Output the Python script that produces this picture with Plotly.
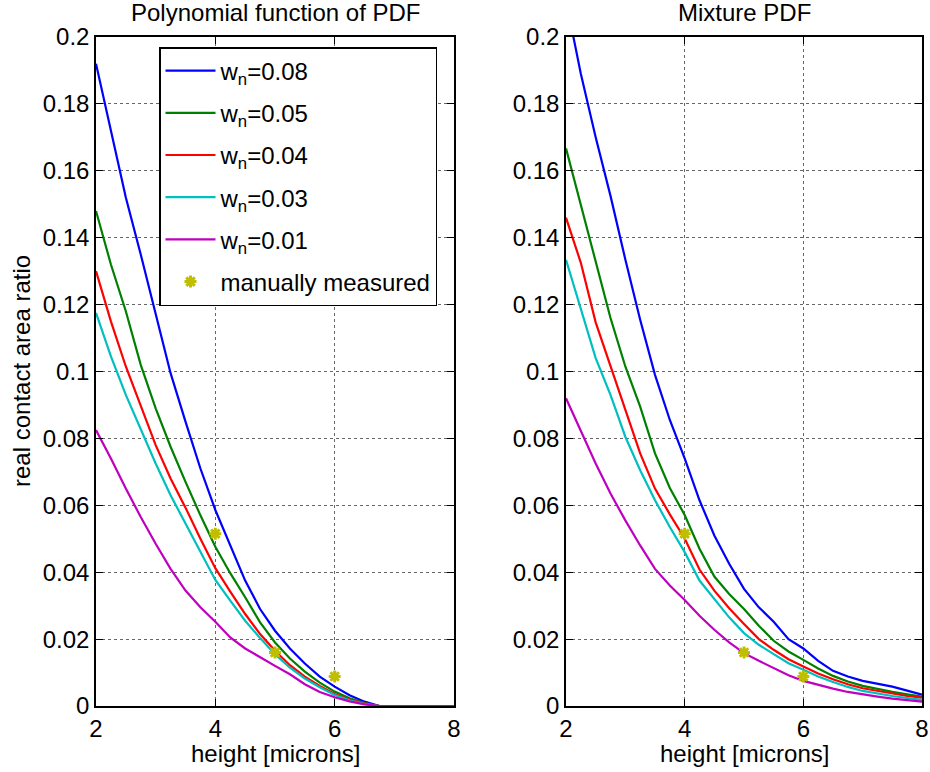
import plotly.graph_objects as go

heights = [2.0, 2.25, 2.5, 2.75, 3.0, 3.25, 3.5, 3.75, 4.0, 4.25, 4.5, 4.75, 5.0,
           5.25, 5.5, 5.75, 6.0, 6.25, 6.5, 6.75, 7.0, 7.25, 7.5, 7.75, 8.0]

series_names = ["w<sub>n</sub>=0.08", "w<sub>n</sub>=0.05", "w<sub>n</sub>=0.04",
                "w<sub>n</sub>=0.03", "w<sub>n</sub>=0.01"]
series_colors = ["#0000ff", "#008000", "#ff0000", "#00bfbf", "#bf00bf"]

# Left panel: Polynomial function of PDF
poly_w008 = [0.192, 0.172, 0.152, 0.135, 0.117, 0.0995, 0.085, 0.071, 0.0586, 0.048, 0.0375, 0.029, 0.0225,
             0.0172, 0.0127, 0.0088, 0.0058, 0.0032, 0.0013, 0.0, 0.0, 0.0, 0.0, 0.0, 0.0]
poly_w005 = [0.148, 0.132, 0.118, 0.102, 0.089, 0.0775, 0.067, 0.057, 0.0476, 0.0397, 0.0325, 0.025, 0.019,
             0.0142, 0.0103, 0.007, 0.0043, 0.0023, 0.0009, 0.0, 0.0, 0.0, 0.0, 0.0, 0.0]
poly_w004 = [0.130, 0.115, 0.1015, 0.090, 0.078, 0.068, 0.0593, 0.050, 0.0412, 0.0342, 0.0275, 0.0215, 0.0165,
             0.0122, 0.0088, 0.006, 0.0036, 0.0019, 0.0007, 0.0, 0.0, 0.0, 0.0, 0.0, 0.0]
poly_w003 = [0.1175, 0.1045, 0.093, 0.0825, 0.0725, 0.063, 0.0545, 0.046, 0.0377, 0.0315, 0.0255, 0.0203, 0.0155,
             0.0115, 0.0082, 0.0056, 0.0033, 0.0017, 0.0006, 0.0, 0.0, 0.0, 0.0, 0.0, 0.0]
poly_w001 = [0.0825, 0.074, 0.065, 0.0565, 0.0485, 0.041, 0.0345, 0.0295, 0.0252, 0.0205, 0.0172, 0.0145, 0.012,
             0.0095, 0.0065, 0.0042, 0.0026, 0.0014, 0.0005, 0.0, 0.0, 0.0, 0.0, 0.0, 0.0]

# Right panel: Mixture PDF
mix_w008 = [0.211, 0.189, 0.170, 0.1525, 0.1335, 0.1155, 0.099, 0.0855, 0.074, 0.0615, 0.051, 0.0425, 0.035,
            0.0295, 0.0252, 0.020, 0.0172, 0.0135, 0.0105, 0.0088, 0.0075, 0.0066, 0.0058, 0.0046, 0.0034]
mix_w005 = [0.1667, 0.150, 0.1335, 0.116, 0.1015, 0.0895, 0.0755, 0.0652, 0.0571, 0.047, 0.0387, 0.0335, 0.029,
            0.024, 0.0195, 0.0163, 0.0138, 0.0112, 0.009, 0.0073, 0.006, 0.005, 0.0042, 0.0035, 0.0028]
mix_w004 = [0.146, 0.1325, 0.1147, 0.1015, 0.0885, 0.0755, 0.065, 0.0573, 0.0501, 0.0408, 0.0345, 0.0292, 0.0245,
            0.020, 0.0168, 0.014, 0.0118, 0.0097, 0.008, 0.0065, 0.0053, 0.0045, 0.0037, 0.003, 0.0025]
mix_w003 = [0.1334, 0.1185, 0.104, 0.093, 0.0805, 0.0705, 0.0615, 0.0535, 0.046, 0.0375, 0.032, 0.0265, 0.0218,
            0.0183, 0.0155, 0.0128, 0.0108, 0.0088, 0.0072, 0.0057, 0.0045, 0.0037, 0.003, 0.0024, 0.0018]
mix_w001 = [0.092, 0.082, 0.0725, 0.0635, 0.0555, 0.048, 0.041, 0.036, 0.0317, 0.027, 0.0228, 0.019, 0.0158,
            0.0135, 0.0113, 0.0092, 0.0075, 0.0063, 0.0052, 0.0042, 0.0034, 0.0028, 0.0022, 0.0017, 0.0013]

measured_h = [4, 5, 6]
measured_r = [0.0515, 0.016, 0.0088]

x_ticks = [2, 4, 6, 8]
y_ticks = [0, 0.02, 0.04, 0.06, 0.08, 0.1, 0.12, 0.14, 0.16, 0.18, 0.2]
y_tick_text = ["0", "0.02", "0.04", "0.06", "0.08", "0.1", "0.12", "0.14", "0.16", "0.18", "0.2"]

FONT = "Liberation Sans, Arial, Helvetica, sans-serif"
FS = 24
W, H = 930, 772
STAR = "#bfbf00"

fig = go.Figure()

left_series = [poly_w008, poly_w005, poly_w004, poly_w003, poly_w001]
right_series = [mix_w008, mix_w005, mix_w004, mix_w003, mix_w001]

for i, (name, col, ys) in enumerate(zip(series_names, series_colors, left_series)):
    fig.add_trace(go.Scatter(x=heights, y=ys, mode="lines", name=name,
                             line=dict(color=col, width=2.2), legendgroup=f"g{i}",
                             xaxis="x", yaxis="y", showlegend=True))
fig.add_trace(go.Scatter(x=measured_h, y=measured_r, mode="markers", name="manually measured",
                         marker=dict(symbol="asterisk-open", size=10, color=STAR,
                                     line=dict(color=STAR, width=3)),
                         legendgroup="g5", xaxis="x", yaxis="y", showlegend=True))

for name, col, ys in zip(series_names, series_colors, right_series):
    fig.add_trace(go.Scatter(x=heights, y=ys, mode="lines", name=name,
                             line=dict(color=col, width=2.2),
                             xaxis="x2", yaxis="y2", showlegend=False))
fig.add_trace(go.Scatter(x=measured_h, y=measured_r, mode="markers", name="manually measured",
                         marker=dict(symbol="asterisk-open", size=10, color=STAR,
                                     line=dict(color=STAR, width=3)),
                         xaxis="x2", yaxis="y2", showlegend=False))

def px_x(p):
    return p / W

def px_y(p):
    return 1 - p / H

common_x = dict(range=[2, 8], tickvals=x_ticks, ticks="inside", ticklen=7, tickcolor="black",
                showline=True, linecolor="black", linewidth=1.5, mirror="ticks",
                showgrid=True, gridcolor="rgba(0,0,0,0.6)", griddash="dot", gridwidth=1,
                zeroline=False, automargin=False,
                tickfont=dict(size=FS, color="black", family=FONT))
common_y = dict(range=[0, 0.2], tickvals=y_ticks, ticktext=y_tick_text, ticks="inside", ticklen=7,
                tickcolor="black", showline=True, linecolor="black", linewidth=1.5, mirror="ticks",
                showgrid=True, gridcolor="rgba(0,0,0,0.6)", griddash="dot", gridwidth=1,
                zeroline=False, automargin=False,
                tickfont=dict(size=FS, color="black", family=FONT))

fig.update_layout(
    width=W, height=H,
    margin=dict(l=0, r=0, t=0, b=0, autoexpand=False),
    paper_bgcolor="white", plot_bgcolor="white",
    font=dict(family=FONT, size=FS, color="black"),
    xaxis=dict(domain=[px_x(96), px_x(454)], anchor="y", **common_x),
    yaxis=dict(domain=[px_y(706), px_y(37)], anchor="x", **common_y),
    xaxis2=dict(domain=[px_x(566), px_x(922)], anchor="y2", **common_x),
    yaxis2=dict(domain=[px_y(706), px_y(37)], anchor="x2", **common_y),
    legend=dict(x=px_x(159), y=px_y(47), xanchor="left", yanchor="top",
                bgcolor="white", bordercolor="black", borderwidth=1.5,
                font=dict(size=FS, family=FONT, color="black"),
                itemwidth=50, tracegroupgap=8, traceorder="grouped"),
    showlegend=True,
)

annotations = [
    dict(text="Polynomial function of PDF", x=px_x(275), y=px_y(13)),
    dict(text="Mixture PDF", x=px_x(744), y=px_y(13)),
    dict(text="height [microns]", x=px_x(275), y=px_y(753)),
    dict(text="height [microns]", x=px_x(744), y=px_y(753)),
    dict(text="real contact area ratio", x=px_x(22), y=px_y(371), textangle=-90),
]
for a in annotations:
    fig.add_annotation(xref="paper", yref="paper", showarrow=False,
                       xanchor="center", yanchor="middle",
                       font=dict(size=FS, family=FONT, color="black"), **a)

fig.write_html("out.html")
